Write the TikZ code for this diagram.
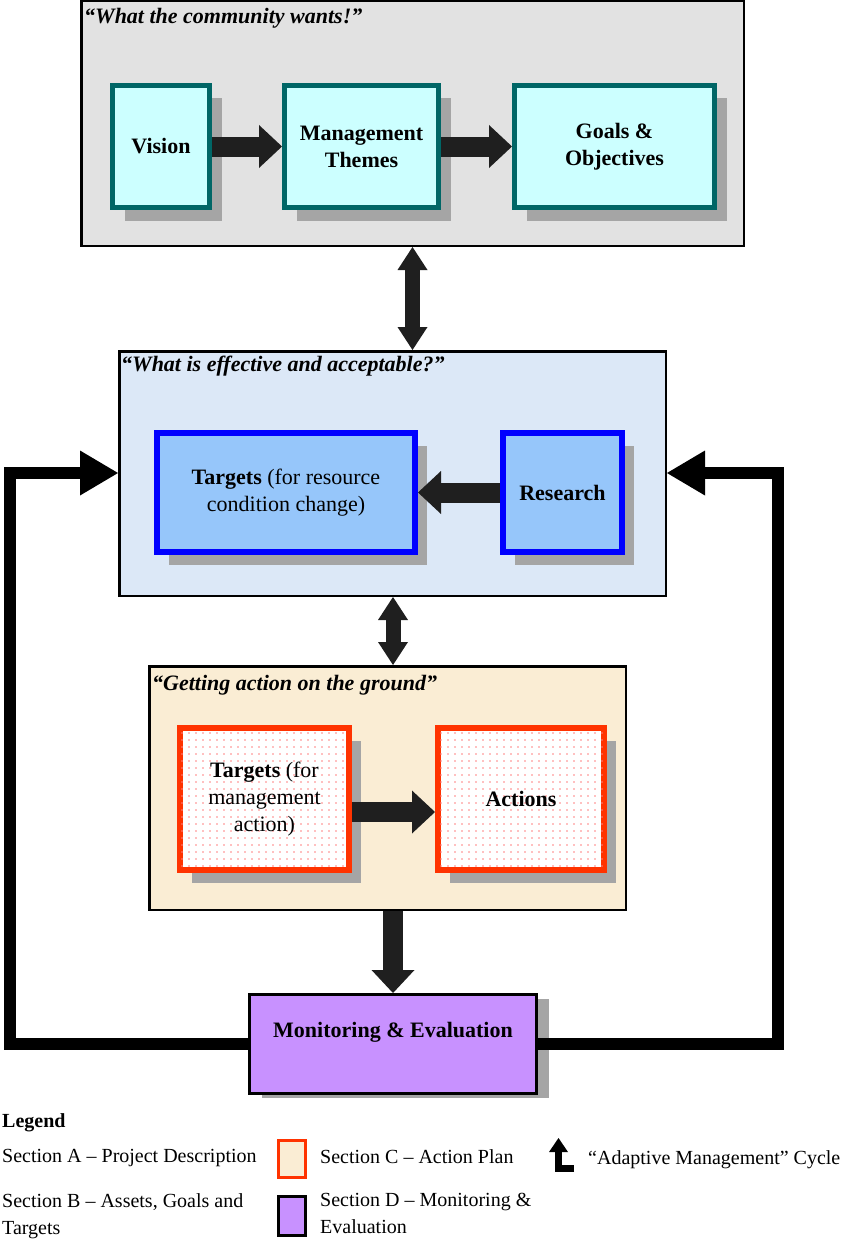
\documentclass[tikz,border=0pt]{standalone}
\usepackage{fontspec}
\setmainfont{Liberation Serif}
\usetikzlibrary{arrows.meta,shadows,patterns.meta}
\definecolor{granite}{RGB}{226,226,226}
\definecolor{skyback}{RGB}{220,232,247}
\definecolor{sandback}{RGB}{250,237,212}
\definecolor{tealline}{RGB}{0,102,102}
\definecolor{tealfill}{RGB}{204,255,255}
\definecolor{bluefill}{RGB}{150,198,250}
\definecolor{redline}{RGB}{255,51,0}
\definecolor{lilac}{RGB}{200,145,255}
\definecolor{shade}{RGB}{165,165,165}
\tikzset{panel/.style={draw,line width=2.5pt,inner sep=0pt},
  boxtext/.style={font=\fontsize{22}{27}\selectfont\bfseries,align=center,inner sep=0pt},
  shadebox/.style={drop shadow={shadow xshift=12pt,shadow yshift=-13pt,fill=shade,opacity=1}},
  tealbox/.style={boxtext,shadebox,draw=tealline,fill=tealfill,line width=5pt},
  bluebox/.style={boxtext,shadebox,draw=blue,fill=bluefill,line width=6pt},
  redbox/.style={boxtext,shadebox,draw=redline,fill=white,line width=6pt,
    postaction={pattern={Dots[distance=7pt,radius=.8pt]},pattern color=red!50}},
  heading/.style={anchor=west,inner sep=0pt,font=\fontsize{22}{26}\selectfont\bfseries\itshape},
  keytext/.style={anchor=west,inner sep=0pt,align=left,font=\fontsize{20}{27}\selectfont},
  blockarrow/.style={-{Triangle[length=23pt,width=43pt,line width=0pt]},line width=20pt,black!88},
  twoway/.style={{Triangle[length=23pt,width=30pt,line width=0pt]}-{Triangle[length=23pt,width=30pt,line width=0pt]},line width=15pt,black!88},
  loopback/.style={-{Triangle[length=38pt,width=45pt,line width=0pt]},line width=12pt}}

\begin{document}
\begin{tikzpicture}[x=1pt,y=-1pt]
  \path[use as bounding box] (0,0) rectangle (843,1244);
  \node[panel,fill=granite,minimum width=662.5pt,minimum height=244.5pt] (secA) at (412.5,123.5) {};
  \node[heading] (headA) at (84,18) {“What the community wants!”};
  \node[tealbox,minimum width=97pt,minimum height=122pt] (vision) at (161,146.5) {Vision};
  \node[tealbox,minimum width=154pt,minimum height=122pt] (themes) at (361.5,146.5) {Management\\Themes};
  \node[tealbox,minimum width=200pt,minimum height=122pt] (goals) at (614.5,146.5) {Goals \&\\Objectives};
  \draw[blockarrow] (vision) -- (themes);
  \draw[blockarrow] (themes) -- (goals);

  \node[panel,fill=skyback,minimum width=546.5pt,minimum height=244.5pt] (secB) at (392.5,473.5) {};
  \node[heading] (headB) at (121,366) {“What is effective and acceptable?”};
  \node[bluebox,minimum width=258pt,minimum height=119pt] (tres) at (286,492.5)
    {Targets {\mdseries(for resource}\\{\mdseries condition change)}};
  \node[bluebox,minimum width=119pt,minimum height=119pt] (research) at (562.5,492.5) {Research};
  \draw[blockarrow] (research) -- (tres);
  \draw[twoway] (secA.south) -- (secA.south |- secB.north);

  \node[panel,fill=sandback,minimum width=476.5pt,minimum height=243.5pt] (secC) at (387.5,788) {};
  \node[heading] (headC) at (152,685) {“Getting action on the ground”};
  \node[redbox,minimum width=169pt,minimum height=142pt] (tmgmt) at (264.5,799)
    {Targets {\mdseries(for}\\{\mdseries management}\\{\mdseries action)}};
  \node[redbox,minimum width=166pt,minimum height=142pt] (actions) at (521,799) {Actions};
  \draw[blockarrow] ([yshift=-13pt]tmgmt.east) -- ([yshift=-13pt]actions.west);

  \node[boxtext,draw,line width=3pt,fill=lilac,drop shadow={shadow xshift=12pt,shadow yshift=-4pt,fill=shade,opacity=1},
    minimum width=287pt,minimum height=99pt,text depth=28pt] (eval) at (393,1044) {Monitoring \& Evaluation};
  \draw[twoway] (secB.south -| eval.north) -- (secC.north -| eval.north);
  \draw[blockarrow] (secC.south -| eval.north) -- (eval.north);

  \coordinate (lturn) at (10,473);
  \coordinate (rturn) at (778,473);
  \draw[loopback] (eval.west) -| (lturn) -- (secB.west |- lturn);
  \draw[loopback] (eval.east) -| (rturn) -- (secB.east |- rturn);

  \node[keytext,font=\fontsize{20}{27}\selectfont\bfseries] (legtitle) at (2,1123) {Legend};
  \node[keytext] (legA) at (2,1158) {Section A – Project Description};
  \node[keytext,anchor=north west] (legB) at (2,1193) {Section B – Assets, Goals and\\Targets};
  \node[draw=redline,line width=3pt,fill=sandback,minimum width=27pt,minimum height=37pt,inner sep=0pt] (keyC) at (292,1159) {};
  \node[keytext] (legC) at (320,1157) {Section C – Action Plan};
  \node[draw,line width=3pt,fill=lilac,minimum width=27pt,minimum height=39pt,inner sep=0pt] (keyD) at (292,1216) {};
  \node[keytext,anchor=north west] (legD) at (320,1193) {Section D – Monitoring \&\\Evaluation};
  \draw[-{Triangle[length=14pt,width=19pt,line width=0pt]},line width=7pt] (574,1168.5) -| (558.5,1138);
  \node[keytext] (legcycle) at (588,1160) {“Adaptive Management” Cycle};
\end{tikzpicture}
\end{document}
